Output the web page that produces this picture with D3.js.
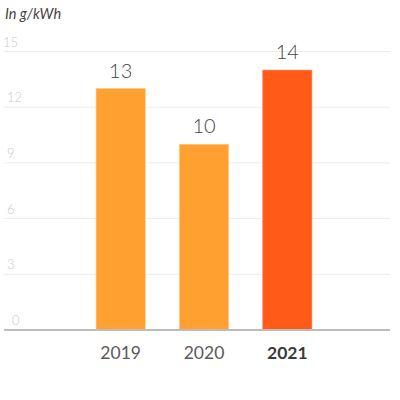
<!DOCTYPE html>
<html>
<head>
<meta charset="utf-8">
<script src="https://cdn.jsdelivr.net/npm/d3@7"></script>
<style>
  body { margin: 0; background: #fff; }
  svg { display: block; font-family: Lato, "Open Sans", sans-serif; }
</style>
</head>
<body>
<svg id="chart" width="400" height="400"></svg>
<script>
const years = ['2019', '2020', '2021'];
const values = [13, 10, 14];
const y_ticks = [0, 3, 6, 9, 12, 15];
const unit_label = 'In g/kWh';

const BASE_Y = 330;
const TOP_Y = 51.5;

const svg = d3.select('#chart');

const x_scale = d3.scaleBand()
	.domain(years)
	.range([79, 329])
	.paddingInner(0.41)
	.paddingOuter(0.205);

const y_scale = d3.scaleLinear()
	.domain([0, 15])
	.range([BASE_Y, TOP_Y]);

// unit label
svg.append('text')
	.attr('x', 5)
	.attr('y', 19)
	.attr('font-size', '14.5px')
	.attr('font-style', 'italic')
	.attr('fill', '#444')
	.text(unit_label);

// grid lines + tick labels
const grid = svg.append('g');
grid.selectAll('line')
	.data(y_ticks.filter(d => d > 0))
	.enter()
	.append('line')
	.attr('x1', 4)
	.attr('x2', 390)
	.attr('y1', d => y_scale(d))
	.attr('y2', d => y_scale(d))
	.attr('stroke', '#ececec')
	.attr('stroke-width', 1);

grid.selectAll('text')
	.data(y_ticks)
	.enter()
	.append('text')
	.attr('x', d => d === 0 ? 12 : (d === 15 ? 3 : 7))
	.attr('y', d => y_scale(d) - 5)
	.attr('font-size', '13px')
	.attr('font-weight', 300)
	.attr('fill', '#c8c8c8')
	.text(d => d);

// bars
const data = years.map((y, i) => ({year: y, value: values[i]}));

svg.selectAll('.bar')
	.data(data)
	.enter()
	.append('rect')
	.attr('class', 'bar')
	.attr('x', d => x_scale(d.year))
	.attr('width', x_scale.bandwidth())
	.attr('y', d => y_scale(d.value))
	.attr('height', d => BASE_Y - y_scale(d.value))
	.attr('fill', (d, i) => i === data.length - 1 ? '#ff5a17' : '#ffa031')
	.attr('stroke', (d, i) => i === data.length - 1 ? '#ff8a5a' : '#ffc27a')
	.attr('stroke-width', 0.6);

// value labels
svg.selectAll('.val')
	.data(data)
	.enter()
	.append('text')
	.attr('class', 'val')
	.attr('x', d => x_scale(d.year) + x_scale.bandwidth() / 2)
	.attr('y', d => y_scale(d.value) - 11)
	.attr('text-anchor', 'middle')
	.attr('font-size', '20px')
	.attr('font-weight', 300)
	.attr('fill', '#444')
	.text(d => d.value);

// baseline axis
const x_axis = svg.append('g')
	.attr('transform', `translate(0,${BASE_Y})`)
	.call(d3.axisBottom(x_scale).tickSize(0).tickPadding(17));
x_axis.select('.domain').remove();
x_axis.append('line')
	.attr('x1', 4)
	.attr('x2', 390)
	.attr('stroke', '#bcbcbc')
	.attr('stroke-width', 2);
x_axis.selectAll('.tick text')
	.attr('font-family', 'Lato, "Open Sans", sans-serif')
	.attr('font-size', '17.5px')
	.attr('font-weight', (d, i) => i === years.length - 1 ? 'bold' : 'normal')
	.attr('fill', (d, i) => i === years.length - 1 ? '#3a3a3a' : '#5a5a5a');
</script>
</body>
</html>
